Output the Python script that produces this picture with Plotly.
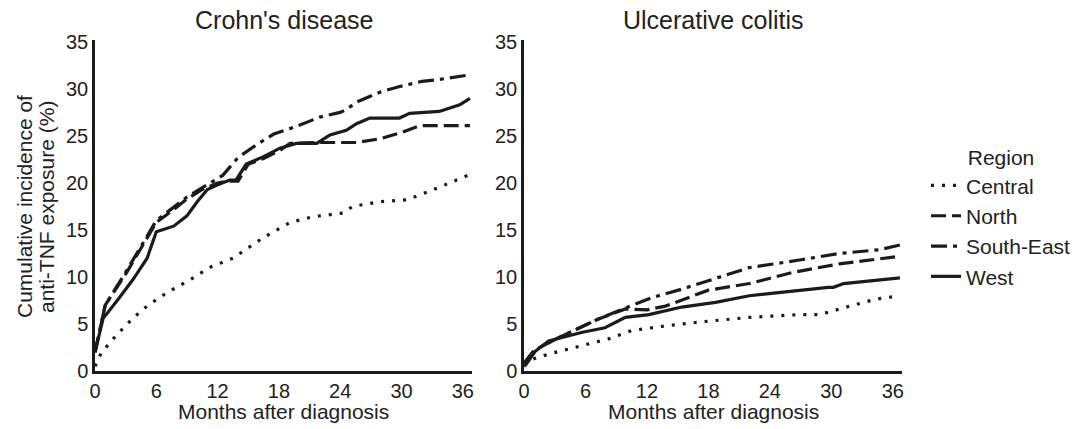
import plotly.graph_objects as go

# ---------------- data ----------------
regions = ["Central", "North", "South-East", "West"]
x_ticks = [0, 6, 12, 18, 24, 30, 36]
y_ticks = [0, 5, 10, 15, 20, 25, 30, 35]

# Crohn's disease
cd_central_m = [0, 0.6, 2, 3.7, 5.2, 7, 9.3, 11.2, 13.5, 16.5, 19.1, 21.3, 24.3, 25.2, 27.9, 30.5, 32.7, 36.7]
cd_central_v = [0.5, 1.9, 3.7, 5.6, 7.0, 8.3, 9.7, 11.0, 12.0, 14.2, 15.8, 16.4, 16.8, 17.5, 18.0, 18.2, 19.1, 20.9]

cd_north_m = [0, 1, 3, 4.5, 6, 7.5, 9, 10.5, 12, 13, 14, 15, 16.5, 18, 19.1, 21.5, 25.6, 27.9, 30.1, 31.8, 36.7]
cd_north_v = [2, 7, 10.3, 13, 15.8, 17, 18.3, 19.3, 20, 20.2, 20.2, 22, 22.6, 23.4, 24.2, 24.3, 24.3, 24.7, 25.4, 26.1, 26.1]

cd_se_m = [0, 1, 3, 4.5, 6, 9, 12.5, 14, 16, 17.5, 19.7, 22, 24, 24.6, 25.6, 28, 30, 32, 33.7, 36.7]
cd_se_v = [2, 7, 10.5, 13.2, 16, 18.5, 20.8, 22.7, 24.2, 25.2, 26.0, 27.0, 27.5, 27.8, 28.6, 29.7, 30.3, 30.8, 31.0, 31.5]

cd_west_m = [0, 0.8, 2.1, 3.7, 5.1, 6.0, 7.7, 9.0, 10, 11, 12, 13.2, 13.8, 14.8, 16.5, 18.1, 19.7, 21.7, 23.0, 24.6, 25.6, 26.9, 29.8, 30.8, 33.7, 35.7, 36.7]
cd_west_v = [2, 5.6, 7.4, 9.7, 12.0, 14.8, 15.4, 16.5, 18.0, 19.3, 19.8, 20.3, 20.3, 22.0, 22.8, 23.7, 24.2, 24.2, 25.1, 25.6, 26.3, 26.9, 26.9, 27.4, 27.6, 28.3, 29.0]

# Ulcerative colitis
uc_central_m = [0, 0.4, 2.4, 5.6, 8.2, 10.5, 13.8, 18, 22, 26.9, 28.9, 31.8, 34.4, 36.7]
uc_central_v = [0.7, 1.1, 1.8, 2.7, 3.4, 4.3, 4.8, 5.3, 5.7, 6.0, 6.0, 6.9, 7.65, 8.0]

uc_north_m = [0, 1, 3.3, 7.2, 9.9, 12, 13.8, 18, 22, 26.3, 30.8, 36.7]
uc_north_v = [0.8, 2.2, 3.5, 5.5, 6.6, 6.5, 6.9, 8.6, 9.3, 10.5, 11.4, 12.2]

uc_se_m = [0, 1, 3.3, 7.2, 9.9, 12.5, 15.4, 18, 22, 26.9, 30.8, 34.7, 36.7]
uc_se_v = [0.8, 2.2, 3.5, 5.5, 6.7, 7.8, 8.7, 9.6, 11.0, 11.8, 12.5, 12.9, 13.4]

uc_west_m = [0, 0.2, 1.1, 2.4, 5.6, 7.9, 9.9, 12.2, 15.4, 18.7, 22, 26.9, 29.7, 30.2, 31.2, 36.7]
uc_west_v = [0.5, 0.7, 2.1, 3.2, 4.1, 4.6, 5.7, 6.0, 6.8, 7.3, 8.0, 8.6, 8.9, 8.9, 9.3, 9.9]

panel_titles = ["Crohn's disease", "Ulcerative colitis"]
x_title = "Months after diagnosis"
y_title_lines = ["Cumulative incidence of", "anti-TNF exposure (%)"]
legend_title = "Region"

# ---------------- style ----------------
LINE_COL = "#1b1b1b"
TEXT_COL = "#222222"
FONT = "Liberation Sans, Arial, Helvetica, sans-serif"
dashes = {
    "Central": "3px,8px",
    "North": "15px,6px",
    "South-East": "16px,6px,4px,6px",
    "West": "solid",
}

W, H = 1080, 429
T, B = 40, 58
plot_h = H - T - B

fig = go.Figure()

cd = {
    "Central": (cd_central_m, cd_central_v),
    "North": (cd_north_m, cd_north_v),
    "South-East": (cd_se_m, cd_se_v),
    "West": (cd_west_m, cd_west_v),
}
uc = {
    "Central": (uc_central_m, uc_central_v),
    "North": (uc_north_m, uc_north_v),
    "South-East": (uc_se_m, uc_se_v),
    "West": (uc_west_m, uc_west_v),
}

for r in regions:
    m, v = cd[r]
    fig.add_trace(go.Scatter(x=m, y=v, mode="lines", name=r, legendgroup=r,
                             line=dict(color=LINE_COL, width=3.2, dash=dashes[r]),
                             xaxis="x", yaxis="y", showlegend=True))
for r in regions:
    m, v = uc[r]
    fig.add_trace(go.Scatter(x=m, y=v, mode="lines", name=r, legendgroup=r,
                             line=dict(color=LINE_COL, width=3.2, dash=dashes[r]),
                             xaxis="x2", yaxis="y2", showlegend=False))

axis_common = dict(showgrid=False, zeroline=False, showline=True, linecolor=LINE_COL,
                   linewidth=2.5, ticks="", tickfont=dict(size=20, color=TEXT_COL, family=FONT),
                   automargin=False)

d1 = [95 / W, 472 / W]
d2 = [524 / W, 902 / W]

fig.update_layout(
    width=W, height=H,
    margin=dict(l=0, r=0, t=T, b=B),
    plot_bgcolor="white", paper_bgcolor="white",
    font=dict(family=FONT, color=TEXT_COL),
    xaxis=dict(domain=d1, range=[0, 36.9], tickvals=x_ticks, anchor="y", **axis_common),
    yaxis=dict(domain=[0, 1], range=[0, 35.2], tickvals=y_ticks, anchor="x", **axis_common),
    xaxis2=dict(domain=d2, range=[0, 36.9], tickvals=x_ticks, anchor="y2", **axis_common),
    yaxis2=dict(domain=[0, 1], range=[0, 35.2], tickvals=y_ticks, anchor="x2", **axis_common),
    legend=dict(
        x=926 / W, y=1 - (138 - T) / plot_h, xanchor="left", yanchor="top",
        title=dict(text=legend_title, side="top center", font=dict(size=21, color=TEXT_COL)),
        font=dict(size=21, color=TEXT_COL), bgcolor="rgba(0,0,0,0)",
        tracegroupgap=0,
    ),
    showlegend=True,
)

def py(px):
    # pixel from top -> paper y
    return 1 - (px - T) / plot_h

annotations = []
for title, d in zip(panel_titles, [d1, d2]):
    annotations.append(dict(text=title, x=(d[0] + d[1]) / 2, y=py(20), xref="paper", yref="paper",
                            xanchor="center", yanchor="middle", showarrow=False,
                            font=dict(size=25, color=TEXT_COL, family=FONT)))
    annotations.append(dict(text=x_title, x=(d[0] + d[1]) / 2, y=py(411), xref="paper", yref="paper",
                            xanchor="center", yanchor="middle", showarrow=False,
                            font=dict(size=21, color=TEXT_COL, family=FONT)))
for line, xc in zip(y_title_lines, [24, 46]):
    annotations.append(dict(text=line, x=xc / W, y=py(207), xref="paper", yref="paper",
                            xanchor="center", yanchor="middle", textangle=-90, showarrow=False,
                            font=dict(size=21, color=TEXT_COL, family=FONT)))
fig.update_layout(annotations=annotations)

fig.write_html("out.html", config={"displayModeBar": False},
               post_script="document.body.style.margin='0px';")
